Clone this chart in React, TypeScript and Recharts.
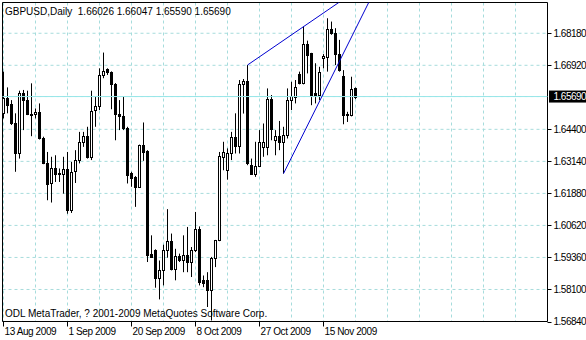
import React from 'react';
import { ComposedChart, Bar, XAxis, YAxis, CartesianGrid, ReferenceLine, ReferenceArea } from 'recharts';

// GBPUSD daily bars, 13 Aug 2009 .. 24 Nov 2009 (one bar per trading day, Sundays included)
const opens = [
  1.6503, 1.6562, 1.6539, 1.6463, 1.6347, 1.6584, 1.6555, 1.65, 1.65, 1.6507,
  1.6404, 1.6309, 1.6227, 1.6286, 1.6267, 1.6263, 1.6282, 1.6122, 1.6277, 1.6321,
  1.6391, 1.6413, 1.6332, 1.6516, 1.6532, 1.6654, 1.6677, 1.6664, 1.6619, 1.6502,
  1.6491, 1.6447, 1.627, 1.6253, 1.6214, 1.6378, 1.6354, 1.5948, 1.5966, 1.5856,
  1.5885, 1.5966, 1.6, 1.5892, 1.594, 1.5927, 1.5944, 1.5918, 1.5964, 1.6049,
  1.5846, 1.5846, 1.5809, 1.5934, 1.6003, 1.6332, 1.6279, 1.6348, 1.6411, 1.6375,
  1.6617, 1.663, 1.6299, 1.6266, 1.6296, 1.6371, 1.6371, 1.6559, 1.64, 1.6413,
  1.6391, 1.6417, 1.6555, 1.6568, 1.6656, 1.6621, 1.6776, 1.6739, 1.6581, 1.6575,
  1.672, 1.6726, 1.6834, 1.6818, 1.6736, 1.665, 1.6502, 1.6495, 1.66026,
];
const highs = [
  1.6667, 1.6605, 1.6555, 1.6503, 1.6592, 1.6595, 1.6592, 1.6621, 1.6522, 1.6542,
  1.6411, 1.6351, 1.6332, 1.6338, 1.6286, 1.6332, 1.6351, 1.6312, 1.6358, 1.643,
  1.643, 1.645, 1.6592, 1.6568, 1.668, 1.6742, 1.668, 1.6668, 1.6622, 1.6555,
  1.6568, 1.645, 1.6273, 1.6256, 1.638, 1.6467, 1.6358, 1.6023, 1.5968, 1.5924,
  1.5986, 1.6126, 1.603, 1.597, 1.5951, 1.6023, 1.6056, 1.5977, 1.6115, 1.6058,
  1.5865, 1.5878, 1.5938, 1.6005, 1.6351, 1.6391, 1.6365, 1.643, 1.6503, 1.6634,
  1.6638, 1.6693, 1.6325, 1.6391, 1.6437, 1.6463, 1.6601, 1.6575, 1.6437, 1.6473,
  1.645, 1.6601, 1.6627, 1.6634, 1.6667, 1.6844, 1.6789, 1.6741, 1.67, 1.6686,
  1.6736, 1.6877, 1.6864, 1.6838, 1.6792, 1.6673, 1.6509, 1.6647, 1.66047,
];
const lows = [
  1.6483, 1.6503, 1.6457, 1.6273, 1.6325, 1.6437, 1.6496, 1.6413, 1.6483, 1.64,
  1.6303, 1.6161, 1.6152, 1.6233, 1.6233, 1.6187, 1.6108, 1.6111, 1.6229, 1.6306,
  1.6371, 1.6325, 1.6319, 1.645, 1.6516, 1.6641, 1.6654, 1.6519, 1.6397, 1.6437,
  1.6437, 1.6227, 1.6214, 1.6135, 1.6212, 1.6316, 1.5918, 1.5935, 1.5817, 1.5771,
  1.5826, 1.5935, 1.5885, 1.5846, 1.5918, 1.5878, 1.5878, 1.5859, 1.5957, 1.5826,
  1.5819, 1.5741, 1.5688, 1.5898, 1.6, 1.6279, 1.6242, 1.6319, 1.6345, 1.6345,
  1.6502, 1.6299, 1.6263, 1.6253, 1.6292, 1.6332, 1.6338, 1.6397, 1.6338, 1.6358,
  1.6266, 1.6404, 1.6516, 1.6542, 1.6617, 1.6617, 1.666, 1.6535, 1.6542, 1.6555,
  1.668, 1.6667, 1.6812, 1.6693, 1.6667, 1.646, 1.6469, 1.6491, 1.6559,
];
const closes = [
  1.6562, 1.6535, 1.6463, 1.6347, 1.6584, 1.6555, 1.65, 1.6498, 1.6509, 1.6404,
  1.6306, 1.6223, 1.6286, 1.6266, 1.6265, 1.6282, 1.6122, 1.6273, 1.6321, 1.6391,
  1.6413, 1.6332, 1.6512, 1.6532, 1.6654, 1.667, 1.6664, 1.6619, 1.6502, 1.6491,
  1.6445, 1.6259, 1.6247, 1.6214, 1.6378, 1.6352, 1.5944, 1.5938, 1.5856, 1.5885,
  1.5966, 1.6, 1.5892, 1.594, 1.5927, 1.5944, 1.5918, 1.5964, 1.6049, 1.5839,
  1.5835, 1.5809, 1.5934, 1.6003, 1.6336, 1.6351, 1.6348, 1.6411, 1.6375, 1.6617,
  1.663, 1.6306, 1.6266, 1.6296, 1.6391, 1.6391, 1.6559, 1.6443, 1.6413, 1.6391,
  1.6417, 1.6555, 1.6571, 1.6605, 1.6621, 1.6776, 1.6733, 1.6575, 1.6575, 1.6667,
  1.6729, 1.6834, 1.6818, 1.6736, 1.6673, 1.6495, 1.6495, 1.66, 1.6569,
];

const dateTickBars = [0, 16, 32, 48, 64, 80];
const dateTickLabels = ['13 Aug 2009', '1 Sep 2009', '20 Sep 2009', '8 Oct 2009', '27 Oct 2009', '15 Nov 2009'];
const gridBars = [0, 8, 16, 24, 32, 40, 48, 56, 64, 72, 80, 88, 96, 104, 112, 120, 128];
const priceTicks = [1.5684, 1.581, 1.5936, 1.6062, 1.6188, 1.6314, 1.644, 1.6569, 1.6692, 1.6818];
const lastPrice = 1.6569;
const headerText = 'GBPUSD,Daily  1.66026 1.66047 1.65590 1.65690';
const footerText = 'ODL MetaTrader, ? 2001-2009 MetaQuotes Software Corp.';

// hand-drawn trendlines (bar index, price)
const upperTrend = [{ x: 61, y: 1.6693 }, { x: 84, y: 1.6941 }];
const lowerTrend = [{ x: 70, y: 1.6266 }, { x: 92, y: 1.6961 }];

const data = opens.map((open, i) => ({ bar: i, open, high: highs[i], low: lows[i], close: closes[i] }));

const FONT = '"Liberation Sans", Arial, sans-serif';

const Candle = (props: any) => {
  const { x, y, width, height, payload } = props;
  const { open, close, high, low } = payload;
  const yHigh = Math.min(y, y + height);
  const yLow = Math.max(y, y + height);
  const cx = Math.floor(x + width / 2) + 0.5;
  const py = (v: number) => yHigh + ((high - v) / (high - low)) * (yLow - yHigh);
  const top = Math.round(py(Math.max(open, close)));
  const bot = Math.round(py(Math.min(open, close)));
  const up = close >= open;
  return (
    <g>
      <line x1={cx} x2={cx} y1={yHigh} y2={yLow} stroke="#000" strokeWidth={1} />
      {bot - top < 1 ? (
        <line x1={cx - 1.5} x2={cx + 1.5} y1={top + 0.5} y2={top + 0.5} stroke="#000" strokeWidth={1} />
      ) : (
        <rect x={cx - 1} y={top + 0.5} width={2} height={bot - top} fill={up ? '#fff' : '#000'} stroke="#000" strokeWidth={1} />
      )}
    </g>
  );
};

const DateTick = ({ x, y, payload }: any) => {
  const idx = dateTickBars.indexOf(payload.value);
  if (idx < 0) return <g />;
  return (
    <g>
      <line x1={x} x2={x} y1={y} y2={y + 5} stroke="#000" />
      <text x={x + 1} y={y + 13.5} fontSize={10} fontFamily={FONT} letterSpacing={-0.4} fill="#000" textAnchor="start">
        {dateTickLabels[idx]}
      </text>
    </g>
  );
};

const PriceTick = ({ x, y, payload }: any) => {
  const v = payload.value;
  if (v === lastPrice) {
    return (
      <g>
        <rect x={x + 1.5} y={y - 6} width={40} height={12} fill="#000" />
        <text x={x + 6} y={y + 3.5} fontSize={10} fontFamily={FONT} letterSpacing={-0.5} fill="#fff">
          {v.toFixed(5)}
        </text>
      </g>
    );
  }
  return (
    <g>
      <line x1={x} x2={x + 4} y1={Math.round(y) + 0.5} y2={Math.round(y) + 0.5} stroke="#000" />
      <text x={x + 6} y={y + 3.5} fontSize={10} fontFamily={FONT} letterSpacing={-0.5} fill="#000">
        {v.toFixed(5)}
      </text>
    </g>
  );
};

export default function App() {
  return (
    <div style={{ position: 'relative', width: 586, height: 340, background: '#fff', fontFamily: FONT }}>
      <style>{'body{margin:0}'}</style>
      <ComposedChart width={586} height={340} data={data} margin={{ top: 2.5, right: 0, bottom: 0, left: 2.5 }}>
        <CartesianGrid stroke="#a6dcdc" strokeDasharray="3 3" />
        <XAxis
          dataKey="bar"
          type="number"
          domain={[-0.25, 136]}
          allowDataOverflow
          ticks={gridBars}
          interval={0}
          tickSize={0}
          tickMargin={0}
          height={18.5}
          axisLine={false}
          tick={<DateTick />}
        />
        <YAxis
          type="number"
          orientation="right"
          domain={[1.5684, 1.6939]}
          allowDataOverflow
          ticks={priceTicks}
          interval={0}
          tickSize={0}
          tickMargin={0}
          width={38.5}
          axisLine={false}
          tick={<PriceTick />}
        />
        <ReferenceLine y={lastPrice} stroke="#98e6e8" strokeWidth={1} />
        <Bar
          dataKey={(d: any) => [d.low, d.high]}
          barSize={3}
          isAnimationActive={false}
          shape={(p: any) => <Candle {...p} />}
        />
        <ReferenceLine segment={upperTrend} stroke="#0000d0" strokeWidth={1} ifOverflow="hidden" />
        <ReferenceLine segment={lowerTrend} stroke="#0000d0" strokeWidth={1} ifOverflow="hidden" />
        <ReferenceArea x1={-0.25} x2={136} y1={1.5684} y2={1.6939} fill="none" stroke="#000" strokeWidth={1} ifOverflow="visible" />
      </ComposedChart>
      <div style={{ position: 'absolute', left: 5, top: 6.5, fontSize: 10, lineHeight: '10px', whiteSpace: 'pre', color: '#000' }}>
        {headerText}
      </div>
      <div style={{ position: 'absolute', left: 5, top: 308.5, fontSize: 10, lineHeight: '10px', whiteSpace: 'pre', color: '#000' }}>
        {footerText}
      </div>
    </div>
  );
}
